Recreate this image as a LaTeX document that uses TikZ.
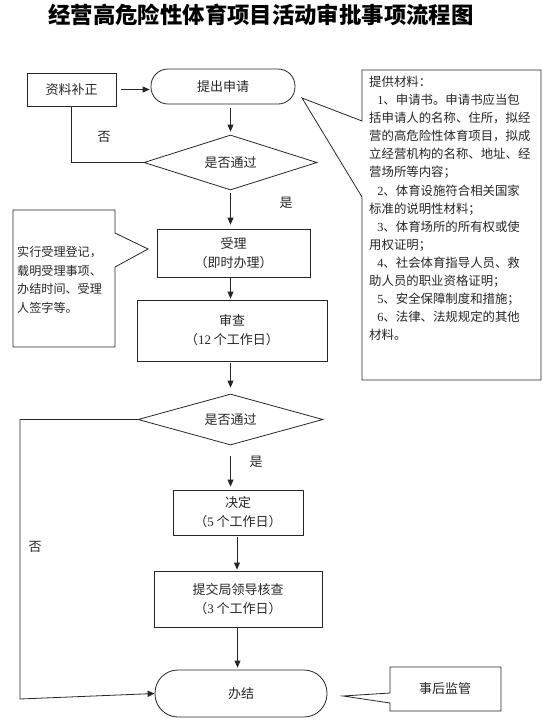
\documentclass[tikz,border=0pt]{standalone}
\usepackage{fontspec}
\setmainfont{Noto Sans CJK SC}
\newfontfamily\lat{Liberation Serif}
\usetikzlibrary{arrows.meta,shapes.geometric}
\newcommand{\fsz}[2]{\fontsize{#1}{#2}\selectfont}
\begin{document}
\begin{tikzpicture}[x=1pt,y=-1pt,
  ln/.style={line width=0.8pt, draw=black!85},
  arr/.style={ln, -{Triangle[length=7pt,width=6pt]}},
  box/.style={ln, rectangle, inner sep=0pt, align=center, font=\fsz{13}{19}, text=black!85},
  dia/.style={ln, diamond, aspect=3, inner sep=0pt, font=\fsz{13}{19}, text=black!85},
  lbl/.style={inner sep=0pt, font=\fsz{13}{19}, text=black!85},
  note/.style={inner sep=0pt, align=left, anchor=north west, text=black!85}
]
\useasboundingbox (0,0) rectangle (555,726);

% title
\node[inner sep=0pt, font=\fsz{22.4}{24}\bfseries] (title) at (261,15) {经营高危险性体育项目活动审批事项流程图};

% flow nodes
\node[box, minimum width=89pt, minimum height=33pt] (bz) at (71.5,89.5) {资料补正};
\node[box, rounded corners=17pt, minimum width=144pt, minimum height=35pt] (sq) at (223,86.5) {提出申请};
\node[dia, minimum width=173pt, minimum height=55pt] (d1) at (230.5,162.5) {是否通过};
\node[box, minimum width=153pt, minimum height=48pt] (sl) at (233.5,253) {受理\\（即时办理）};
\node[box, minimum width=190pt, minimum height=61pt] (sc) at (232,330.5) {审查\\（{\lat 12} 个工作日）};
\node[dia, minimum width=185pt, minimum height=51pt] (d2) at (230.5,419.5) {是否通过};
\node[box, minimum width=130pt, minimum height=45pt] (jd) at (238,512.5) {决定\\（{\lat 5} 个工作日）};
\node[box, minimum width=168pt, minimum height=56pt] (tj) at (238,599) {提交局领导核查\\（{\lat 3} 个工作日）};
\node[box, rounded corners=23pt, minimum width=172pt, minimum height=47pt] (bj) at (241,693.5) {办结};

% connectors
\draw[arr, shorten >=1pt] (bz.east) ++(5,0) coordinate (bze) (bze) -- (sq.west |- bze);
\draw[arr, shorten <=4pt, shorten >=3pt] (sq.south -| d1.north) -- (d1.north);
\draw[ln] (d1.west) -| (bz.south);
\draw[arr, shorten <=3pt, shorten >=4pt] (d1.south) -- (d1.south |- sl.north);
\draw[arr, shorten <=1pt, shorten >=1pt] (sl.south -| d1.south) -- (d1.south |- sc.north);
\draw[arr, shorten <=2pt, shorten >=6pt] (sc.south -| d2.north) -- (d2.north);
\draw[arr, shorten <=11pt, shorten >=3pt] (d2.south) -- (d2.south |- jd.north);
\draw[arr, shorten <=2pt, shorten >=1pt] (jd.south -| 237,0) -- (tj.north -| 237,0);
\draw[arr, shorten >=2pt] (tj.south -| 237.5,0) -- (bj.north -| 237.5,0);
\coordinate (lc) at (20,699);
\draw[arr] (d2.west) -| (lc) -- (bj.west);

\node[lbl] (no1) at (104,137) {否};
\node[lbl] (yes1) at (286,203) {是};
\node[lbl] (yes2) at (256,462) {是};
\node[lbl] (no2) at (35,547) {否};

% left callout
\draw[ln] (13,210) -- (115,210) -- (115,233) -- (148,249) -- (115,267) -- (115,347) -- (13,347) -- cycle;
\node[note, font=\fsz{12.1}{18.7}] (n1) at (17,246) {实行受理登记，\\载明受理事项、\\办结时间、受理\\人签字等。};

% right callout
\draw[ln] (362,70) -- (541,70) -- (541,380) -- (362,380) -- (362,197) -- (302,98) -- (362,121) -- cycle;
\node[note, font=\fsz{12.4}{18.07}] (n2) at (369,76) {提供材料：\\
\hspace*{0.65em}{\lat 1}、申请书。申请书应当包\\
括申请人的名称、住所，拟经\\
营的高危险性体育项目，拟成\\
立经营机构的名称、地址、经\\
营场所等内容；\\
\hspace*{0.65em}{\lat 2}、体育设施符合相关国家\\
标准的说明性材料；\\
\hspace*{0.65em}{\lat 3}、体育场所的所有权或使\\
用权证明；\\
\hspace*{0.65em}{\lat 4}、社会体育指导人员、救\\
助人员的职业资格证明；\\
\hspace*{0.65em}{\lat 5}、安全保障制度和措施；\\
\hspace*{0.65em}{\lat 6}、法律、法规规定的其他\\
材料。};

% bottom callout
\draw[ln] (390,667) -- (501,667) -- (501,711) -- (390,711) -- (390,703) -- (343,696) -- (390,693) -- cycle;
\node[lbl] (hj) at (445,689) {事后监管};
\end{tikzpicture}
\end{document}
